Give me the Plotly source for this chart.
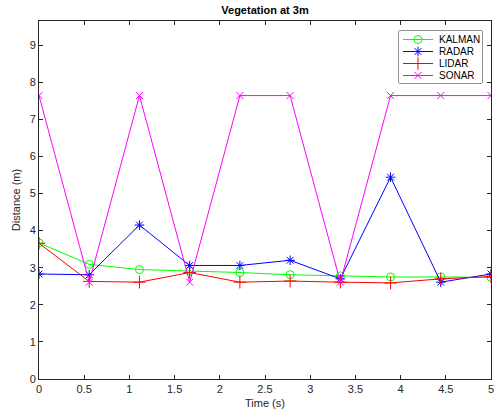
import plotly.graph_objects as go

time_s = [0, 0.5556, 1.1111, 1.6667, 2.2222, 2.7778, 3.3333, 3.8889, 4.4444, 5.0]
kalman = [3.67, 3.09, 2.95, 2.91, 2.87, 2.81, 2.78, 2.75, 2.75, 2.74]
radar = [2.83, 2.81, 4.15, 3.06, 3.06, 3.20, 2.70, 5.44, 2.61, 2.83]
lidar = [3.66, 2.63, 2.61, 2.87, 2.61, 2.64, 2.61, 2.59, 2.70, 2.76]
sonar = [7.64, 2.61, 7.64, 2.61, 7.64, 7.64, 2.61, 7.64, 7.64, 7.64]

names = ["KALMAN", "RADAR", "LIDAR", "SONAR"]
values = [kalman, radar, lidar, sonar]
colors = ["#00ff00", "#0000ff", "#ff0000", "#ff00ff"]
symbols = ["circle-open", "asterisk-open", "cross-thin-open", "x-thin-open"]
sizes = [8, 8, 9, 7]

FONT = "Liberation Sans, Arial, Helvetica"

fig = go.Figure()
for name, vals, col, sym, sz in zip(names, values, colors, symbols, sizes):
    fig.add_trace(go.Scatter(
        x=time_s, y=vals, name=name, mode="lines+markers", showlegend=False,
        line=dict(color=col, width=1),
        marker=dict(symbol=sym, size=sz, color=col, line=dict(color=col, width=1)),
    ))

# MATLAB-style legend drawn in a small overlay axis (pixel-like units)
leg_rows = [39.5, 51.5, 63.5, 75.5]
for name, col, sym, sz, ry in zip(names, colors, symbols, sizes, leg_rows):
    fig.add_trace(go.Scatter(
        x=[403, 433], y=[ry, ry], mode="lines", showlegend=False, hoverinfo="skip",
        line=dict(color=col, width=1), xaxis="x2", yaxis="y2"))
    fig.add_trace(go.Scatter(
        x=[418], y=[ry], mode="markers", showlegend=False, hoverinfo="skip",
        marker=dict(symbol=sym, size=sz, color=col, line=dict(color=col, width=1)),
        xaxis="x2", yaxis="y2"))
    fig.add_annotation(x=437, y=ry, xref="x2", yref="y2", text=name, showarrow=False,
                       xanchor="left", yanchor="middle",
                       font=dict(family=FONT, size=10, color="black"))

fig.add_shape(type="rect", xref="x2 domain", yref="y2 domain", x0=0, x1=1, y0=0, y1=1,
              fillcolor="white", line=dict(color="#262626", width=1), layer="below")

axis_common = dict(
    showgrid=False, zeroline=False, showline=True, linecolor="#262626", linewidth=1,
    mirror="ticks", ticks="inside", ticklen=4, tickcolor="#262626", tickwidth=1,
    tickfont=dict(family=FONT, size=11, color="#262626"),
    automargin=False, ticklabeloverflow="allow",
)

fig.update_layout(
    width=494, height=415,
    margin=dict(l=39, r=3, t=21, b=36),
    paper_bgcolor="white", plot_bgcolor="white",
    title=dict(text="<b>Vegetation at 3m</b>", x=0.5, xanchor="center", xref="paper",
               y=1 - 10 / 415, yanchor="middle",
               font=dict(family=FONT, size=11, color="black")),
    xaxis=dict(range=[0, 5], tickvals=[0, 0.5, 1, 1.5, 2, 2.5, 3, 3.5, 4, 4.5, 5],
               ticktext=["0", "0.5", "1", "1.5", "2", "2.5", "3", "3.5", "4", "4.5", "5"],
               title=dict(text="Time (s)", standoff=5,
                          font=dict(family=FONT, size=11, color="#262626")),
               **axis_common),
    yaxis=dict(range=[0, 9.65], tickvals=list(range(0, 10)),
               title=dict(text="Distance (m)", standoff=6,
                          font=dict(family=FONT, size=11, color="#262626")),
               **axis_common),
    xaxis2=dict(domain=[(399 - 39) / 452, (482 - 39) / 452], range=[399, 482],
                anchor="y2", visible=False, fixedrange=True),
    yaxis2=dict(domain=[(379 - 83) / 358, (379 - 31) / 358], range=[83, 31],
                anchor="x2", visible=False, fixedrange=True),
    showlegend=False,
)

fig.write_html("out.html", config={"displayModeBar": False},
               post_script="document.body.style.margin='0';document.body.style.overflow='hidden';")
